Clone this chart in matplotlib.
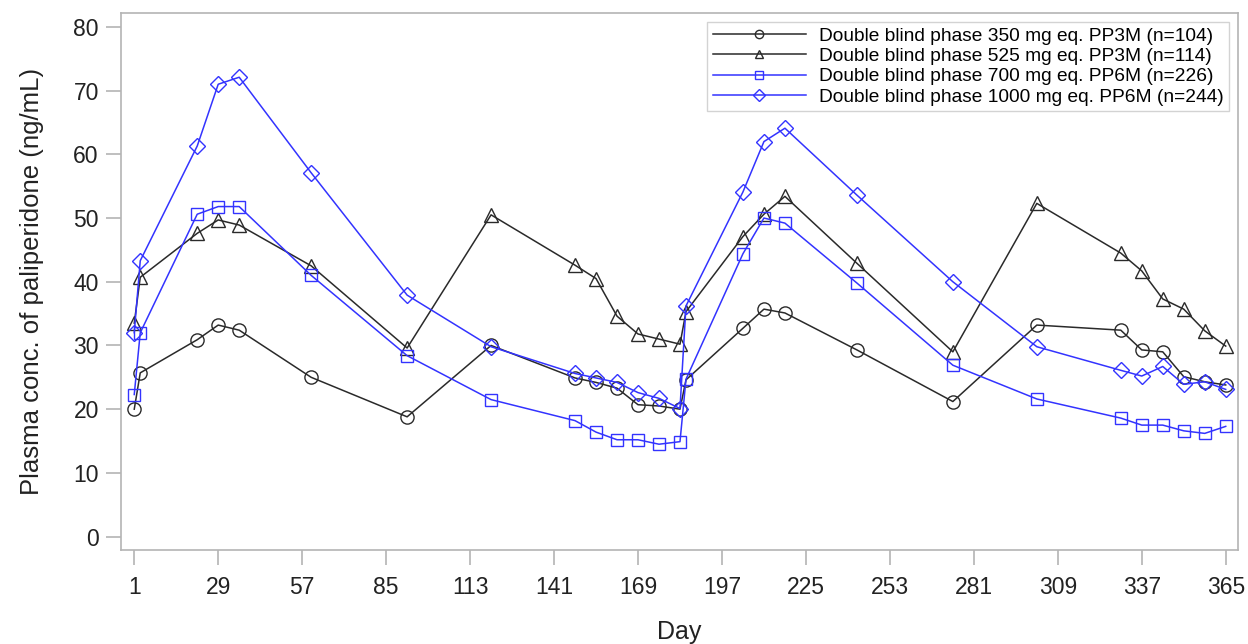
import matplotlib
matplotlib.use("Agg")
import matplotlib.pyplot as plt

plt.rcParams['font.family'] = ['Liberation Sans', 'DejaVu Sans']

days = [1, 3, 22, 29, 36, 60, 92, 120, 148, 155, 162, 169, 176, 183,
        185, 204, 211, 218, 242, 274, 302, 330, 337, 344, 351, 358, 365]

pp3m_350 = [20.0, 25.7, 30.9, 33.2, 32.4, 25.0, 18.8, 30.0, 24.9, 24.2, 23.3, 20.7, 20.5, 20.0,
            24.6, 32.7, 35.7, 35.1, 29.3, 21.2, 33.2, 32.4, 29.3, 29.0, 25.1, 24.3, 23.8]
pp3m_525 = [33.5, 40.7, 47.6, 49.7, 48.9, 42.5, 29.6, 50.5, 42.6, 40.5, 34.6, 31.8, 31.0, 30.2,
            35.3, 47.1, 50.6, 53.4, 42.9, 29.0, 52.3, 44.5, 41.7, 37.3, 35.7, 32.3, 29.9]
pp6m_700 = [22.3, 32.0, 50.6, 51.8, 51.8, 41.0, 28.4, 21.5, 18.2, 16.4, 15.2, 15.2, 14.5, 14.9,
            24.7, 44.4, 50.0, 49.2, 39.8, 26.9, 21.6, 18.6, 17.5, 17.5, 16.6, 16.2, 17.3]
pp6m_1000 = [32.0, 43.3, 61.3, 71.0, 72.1, 57.1, 37.9, 29.8, 25.6, 24.9, 24.2, 22.6, 21.7, 20.1,
             36.2, 54.1, 62.0, 64.1, 53.6, 40.0, 29.8, 26.1, 25.2, 26.7, 23.9, 24.3, 23.1]

labels = ["Double blind phase 350 mg eq. PP3M (n=104)",
          "Double blind phase 525 mg eq. PP3M (n=114)",
          "Double blind phase 700 mg eq. PP6M (n=226)",
          "Double blind phase 1000 mg eq. PP6M (n=244)"]
xticks = [1, 29, 57, 85, 113, 141, 169, 197, 225, 253, 281, 309, 337, 365]
yticks = [0, 10, 20, 30, 40, 50, 60, 70, 80]

black = '#2a2a2a'
blue = '#3333ff'

fig = plt.figure(figsize=(12.48, 6.44), dpi=100)
ax = fig.add_axes([0.097, 0.146, 0.895, 0.834])

series = [(pp3m_350, 'o', black, 9.5),
          (pp3m_525, '^', black, 9.5),
          (pp6m_700, 's', blue, 9),
          (pp6m_1000, 'D', blue, 8)]
for (vals, m, c, ms), lab in zip(series, labels):
    ax.plot(days, vals, color=c, lw=1.1, marker=m, ms=ms, mfc='none',
            mec=c, mew=1.0, label=lab)

ax.set_xlim(-3.4, 369.1)
ax.set_ylim(-2.1, 82.2)
ax.set_xticks(xticks)
ax.set_yticks(yticks)

grey = '#b4b4b4'
for s in ax.spines.values():
    s.set_color(grey)
    s.set_linewidth(1.2)
ax.tick_params(axis='both', colors=grey, labelcolor='#222222', labelsize=16.5,
               length=11, width=1.2)
ax.tick_params(axis='x', pad=8)
ax.tick_params(axis='y', pad=5)

ax.set_xlabel("Day", fontsize=18, color='#222222', labelpad=15)
ax.set_ylabel("Plasma conc. of paliperidone (ng/mL)", fontsize=18.5, color='#222222', labelpad=21)

leg = ax.legend(loc='upper right', fontsize=13.8, frameon=True, fancybox=False,
                edgecolor='#c8c8c8', handlelength=4.9, handletextpad=0.65,
                labelspacing=0.15, borderpad=0.3, borderaxespad=0.45)
leg.get_frame().set_linewidth(1.0)
for h in leg.legend_handles:
    h.set_markersize(6)

fig.savefig("out.png", dpi=100)
